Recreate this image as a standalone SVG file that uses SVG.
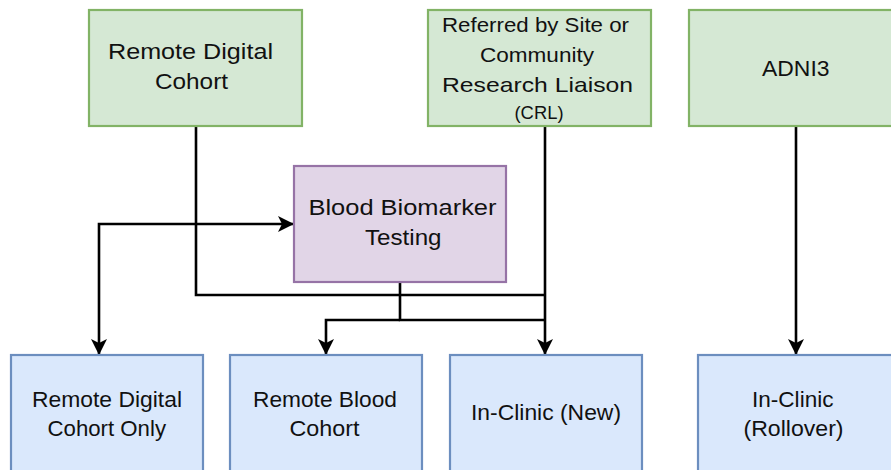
<svg xmlns="http://www.w3.org/2000/svg" width="891" height="470" viewBox="0 0 891 470">
<style>
.g{fill:#d5e8d4;stroke:#82b366;stroke-width:2.2}
.p{fill:#e1d5e7;stroke:#9673a6;stroke-width:2.2}
.b{fill:#dae8fc;stroke:#6c8ebf;stroke-width:2.2}
text{font-family:"Liberation Sans",Arial,sans-serif;font-size:22px;fill:#111}
.e{fill:none;stroke:#000;stroke-width:2.6}
.a{marker-end:url(#arr)}
</style>
<defs>
<marker id="arr" markerUnits="userSpaceOnUse" markerWidth="18" markerHeight="18" refX="16" refY="8" orient="auto">
<path d="M0,0 L16,8 L0,16 L4,8 Z" fill="#000"/>
</marker>
</defs>
<rect width="891" height="470" fill="#fff"/>
<g id="connectors">
<path class="e" d="M196,126 V295 H545"/>
<path class="e a" d="M196,224 H99 V355"/>
<path class="e a" d="M196,224 H294"/>
<path class="e a" d="M545,126 V355"/>
<path class="e" d="M400,282 V320 H545"/>
<path class="e a" d="M400,320 H326 V355"/>
<path class="e a" d="M796,126 V355"/>
</g>
<g id="remote-digital-cohort">
<rect class="g" x="89" y="10" width="213" height="116"/>
<text x="108" y="58.5" textLength="165" lengthAdjust="spacingAndGlyphs">Remote Digital</text>
<text x="155" y="88.5" textLength="73" lengthAdjust="spacingAndGlyphs">Cohort</text>
</g>
<g id="referred">
<rect class="g" x="428" y="10" width="223" height="116"/>
<text x="442" y="32" style="font-size:21px" textLength="187" lengthAdjust="spacingAndGlyphs">Referred by Site or</text>
<text x="480" y="62" style="font-size:21px" textLength="114" lengthAdjust="spacingAndGlyphs">Community</text>
<text x="442" y="92" style="font-size:21px" textLength="191" lengthAdjust="spacingAndGlyphs">Research Liaison</text>
<text x="514.5" y="119" style="font-size:18px" textLength="49" lengthAdjust="spacingAndGlyphs">(CRL)</text>
</g>
<g id="adni3">
<rect class="g" x="689" y="10" width="214" height="116"/>
<text x="762" y="76" textLength="67.5" lengthAdjust="spacingAndGlyphs">ADNI3</text>
</g>
<g id="blood-biomarker-testing">
<rect class="p" x="294" y="166" width="212" height="116"/>
<text x="308.5" y="214.5" textLength="188" lengthAdjust="spacingAndGlyphs">Blood Biomarker</text>
<text x="365" y="245" textLength="76.5" lengthAdjust="spacingAndGlyphs">Testing</text>
</g>
<g id="remote-digital-cohort-only">
<rect class="b" x="11" y="355" width="192" height="118"/>
<text x="32" y="406.5" style="font-size:22.5px" textLength="150" lengthAdjust="spacingAndGlyphs">Remote Digital</text>
<text x="47.5" y="436" style="font-size:22.5px" textLength="118.5" lengthAdjust="spacingAndGlyphs">Cohort Only</text>
</g>
<g id="remote-blood-cohort">
<rect class="b" x="230" y="355" width="192" height="118"/>
<text x="253" y="406.5" style="font-size:22.5px" textLength="144" lengthAdjust="spacingAndGlyphs">Remote Blood</text>
<text x="289.5" y="436" style="font-size:22.5px" textLength="70" lengthAdjust="spacingAndGlyphs">Cohort</text>
</g>
<g id="in-clinic-new">
<rect class="b" x="450" y="355" width="192" height="118"/>
<text x="471" y="420" style="font-size:22.5px" textLength="150" lengthAdjust="spacingAndGlyphs">In-Clinic (New)</text>
</g>
<g id="in-clinic-rollover">
<rect class="b" x="698" y="355" width="196" height="118"/>
<text x="752" y="406.5" style="font-size:22.5px" textLength="81.5" lengthAdjust="spacingAndGlyphs">In-Clinic</text>
<text x="743.5" y="436" style="font-size:22.5px" textLength="100" lengthAdjust="spacingAndGlyphs">(Rollover)</text>
</g>
</svg>
